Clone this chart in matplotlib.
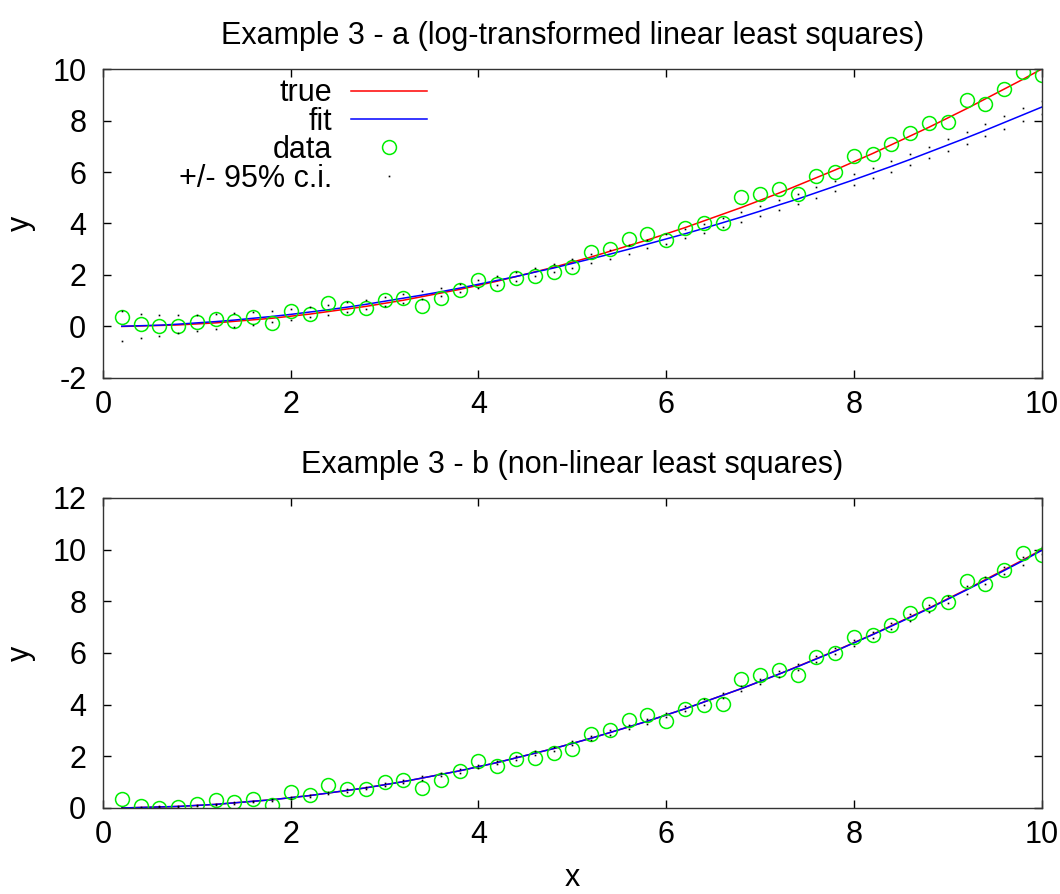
import matplotlib
matplotlib.use("Agg")
import matplotlib.pyplot as plt
from matplotlib.lines import Line2D
import numpy as np

plt.rcParams['font.family'] = ['Liberation Sans', 'DejaVu Sans']
plt.rcParams['font.size'] = 22
plt.rcParams['axes.unicode_minus'] = False

# data (same samples in both panels)
x_data = [0.2, 0.4, 0.6, 0.8, 1.0, 1.2, 1.4, 1.6, 1.8, 2.0,
          2.2, 2.4, 2.6, 2.8, 3.0, 3.2, 3.4, 3.6, 3.8, 4.0,
          4.2, 4.4, 4.6, 4.8, 5.0, 5.2, 5.4, 5.6, 5.8, 6.0,
          6.2, 6.4, 6.6, 6.8, 7.0, 7.2, 7.4, 7.6, 7.8, 8.0,
          8.2, 8.4, 8.6, 8.8, 9.0, 9.2, 9.4, 9.6, 9.8, 10.0]
y_data = [0.35, 0.09, 0.00, 0.03, 0.17, 0.30, 0.22, 0.35, 0.13, 0.62,
          0.49, 0.90, 0.72, 0.72, 1.02, 1.10, 0.78, 1.09, 1.42, 1.81,
          1.64, 1.88, 1.95, 2.13, 2.30, 2.88, 3.00, 3.40, 3.59, 3.36,
          3.82, 4.00, 4.03, 5.01, 5.13, 5.35, 5.14, 5.84, 6.01, 6.63,
          6.69, 7.10, 7.53, 7.91, 7.96, 8.78, 8.66, 9.22, 9.88, 9.78]

# true curve
y_true = [0.00, 0.02, 0.04, 0.06, 0.10, 0.14, 0.20, 0.26, 0.32, 0.40,
          0.48, 0.58, 0.68, 0.78, 0.90, 1.02, 1.16, 1.30, 1.44, 1.60,
          1.76, 1.94, 2.12, 2.30, 2.50, 2.70, 2.92, 3.14, 3.36, 3.60,
          3.84, 4.10, 4.36, 4.62, 4.90, 5.18, 5.48, 5.78, 6.08, 6.40,
          6.72, 7.06, 7.40, 7.74, 8.10, 8.46, 8.84, 9.22, 9.60, 10.00]

# panel a: log-transformed fit and c.i. half widths
fit_a = [0.01, 0.03, 0.05, 0.09, 0.14, 0.19, 0.25, 0.32, 0.39, 0.47,
         0.56, 0.65, 0.75, 0.86, 0.98, 1.10, 1.22, 1.35, 1.49, 1.64,
         1.79, 1.94, 2.11, 2.27, 2.45, 2.63, 2.81, 3.00, 3.20, 3.40,
         3.60, 3.81, 4.03, 4.25, 4.48, 4.72, 4.95, 5.20, 5.45, 5.70,
         5.96, 6.22, 6.49, 6.77, 7.05, 7.33, 7.62, 7.92, 8.22, 8.52]
ci_a = [0.59, 0.47, 0.40, 0.34, 0.31, 0.29, 0.26, 0.25, 0.23, 0.22,
        0.21, 0.20, 0.19, 0.18, 0.17, 0.17, 0.17, 0.16, 0.16, 0.16,
        0.16, 0.16, 0.16, 0.16, 0.16, 0.17, 0.17, 0.17, 0.17, 0.18,
        0.18, 0.18, 0.18, 0.19, 0.19, 0.19, 0.20, 0.20, 0.20, 0.21,
        0.21, 0.21, 0.22, 0.22, 0.23, 0.23, 0.24, 0.24, 0.25, 0.25]

# panel b: non-linear fit and c.i. half widths
fit_b = [0.00, 0.02, 0.04, 0.06, 0.10, 0.14, 0.20, 0.26, 0.32, 0.40,
         0.48, 0.58, 0.68, 0.78, 0.90, 1.02, 1.16, 1.30, 1.44, 1.60,
         1.76, 1.94, 2.12, 2.30, 2.50, 2.70, 2.92, 3.14, 3.36, 3.60,
         3.84, 4.10, 4.36, 4.62, 4.90, 5.18, 5.47, 5.77, 6.07, 6.39,
         6.71, 7.04, 7.38, 7.72, 8.08, 8.44, 8.81, 9.19, 9.57, 9.97]
ci_b = [0.01, 0.01, 0.02, 0.02, 0.02, 0.03, 0.03, 0.03, 0.04, 0.04,
        0.04, 0.05, 0.05, 0.05, 0.06, 0.06, 0.06, 0.06, 0.07, 0.07,
        0.07, 0.07, 0.08, 0.08, 0.08, 0.08, 0.09, 0.09, 0.09, 0.09,
        0.10, 0.10, 0.10, 0.10, 0.11, 0.11, 0.11, 0.12, 0.12, 0.12,
        0.12, 0.13, 0.13, 0.13, 0.14, 0.14, 0.14, 0.15, 0.15, 0.15]

titles = ["Example 3 - a (log-transformed linear least squares)",
          "Example 3 - b (non-linear least squares)"]

GREEN = "#00ee00"

fig = plt.figure(figsize=(10.6, 8.94), dpi=100)
ax_a = fig.add_axes([0.0972, 0.5772, 0.8855, 0.3456])
ax_b = fig.add_axes([0.0972, 0.0962, 0.8855, 0.3468])


def draw_panel(ax, fit, ci, title):
    fit = np.array(fit)
    ci = np.array(ci)
    ax.plot(x_data, y_true, color="red", lw=1.1)
    ax.plot(x_data, fit, color="blue", lw=1.1)
    ax.plot(x_data, y_data, "o", ms=10, mfc="none", mec=GREEN, mew=1.1)
    ax.plot(x_data, fit + ci, "s", ms=1.2, color="black", mew=0)
    ax.plot(x_data, fit - ci, "s", ms=1.2, color="black", mew=0)
    ax.set_xlim(0, 10)
    ax.set_xticks([0, 2, 4, 6, 8, 10])
    ax.set_ylabel("y")
    ax.yaxis.set_label_coords(-0.072, 0.5)
    ax.set_title(title, fontsize=22, pad=18)
    ax.tick_params(direction="in", length=6, width=1, top=True, right=True)
    ax.tick_params(axis="x", pad=9)
    ax.tick_params(axis="y", pad=12)
    for s in ax.spines.values():
        s.set_linewidth(1)
        s.set_color("#333333")


draw_panel(ax_a, fit_a, ci_a, titles[0])
ax_a.set_ylim(-2, 10)
ax_a.set_yticks([-2, 0, 2, 4, 6, 8, 10])

draw_panel(ax_b, fit_b, ci_b, titles[1])
ax_b.set_ylim(0, 12)
ax_b.set_yticks([0, 2, 4, 6, 8, 10, 12])
ax_b.set_xlabel("x", labelpad=9)

handles = [Line2D([], [], color="red", lw=1.1),
           Line2D([], [], color="blue", lw=1.1),
           Line2D([], [], ls="none", marker="o", ms=10, mfc="none", mec=GREEN, mew=1.1),
           Line2D([], [], ls="none", marker="s", ms=1.2, color="black", mew=0)]
labels = ["true", "fit", "data", "+/- 95% c.i."]
ax_a.legend(handles, labels, loc="upper right", bbox_to_anchor=(0.352, 0.99),
            frameon=False, markerfirst=False, handlelength=2.5, handletextpad=0.6,
            labelspacing=-0.05, borderpad=0.2, borderaxespad=0, numpoints=1)

fig.savefig("out.png", dpi=100)
